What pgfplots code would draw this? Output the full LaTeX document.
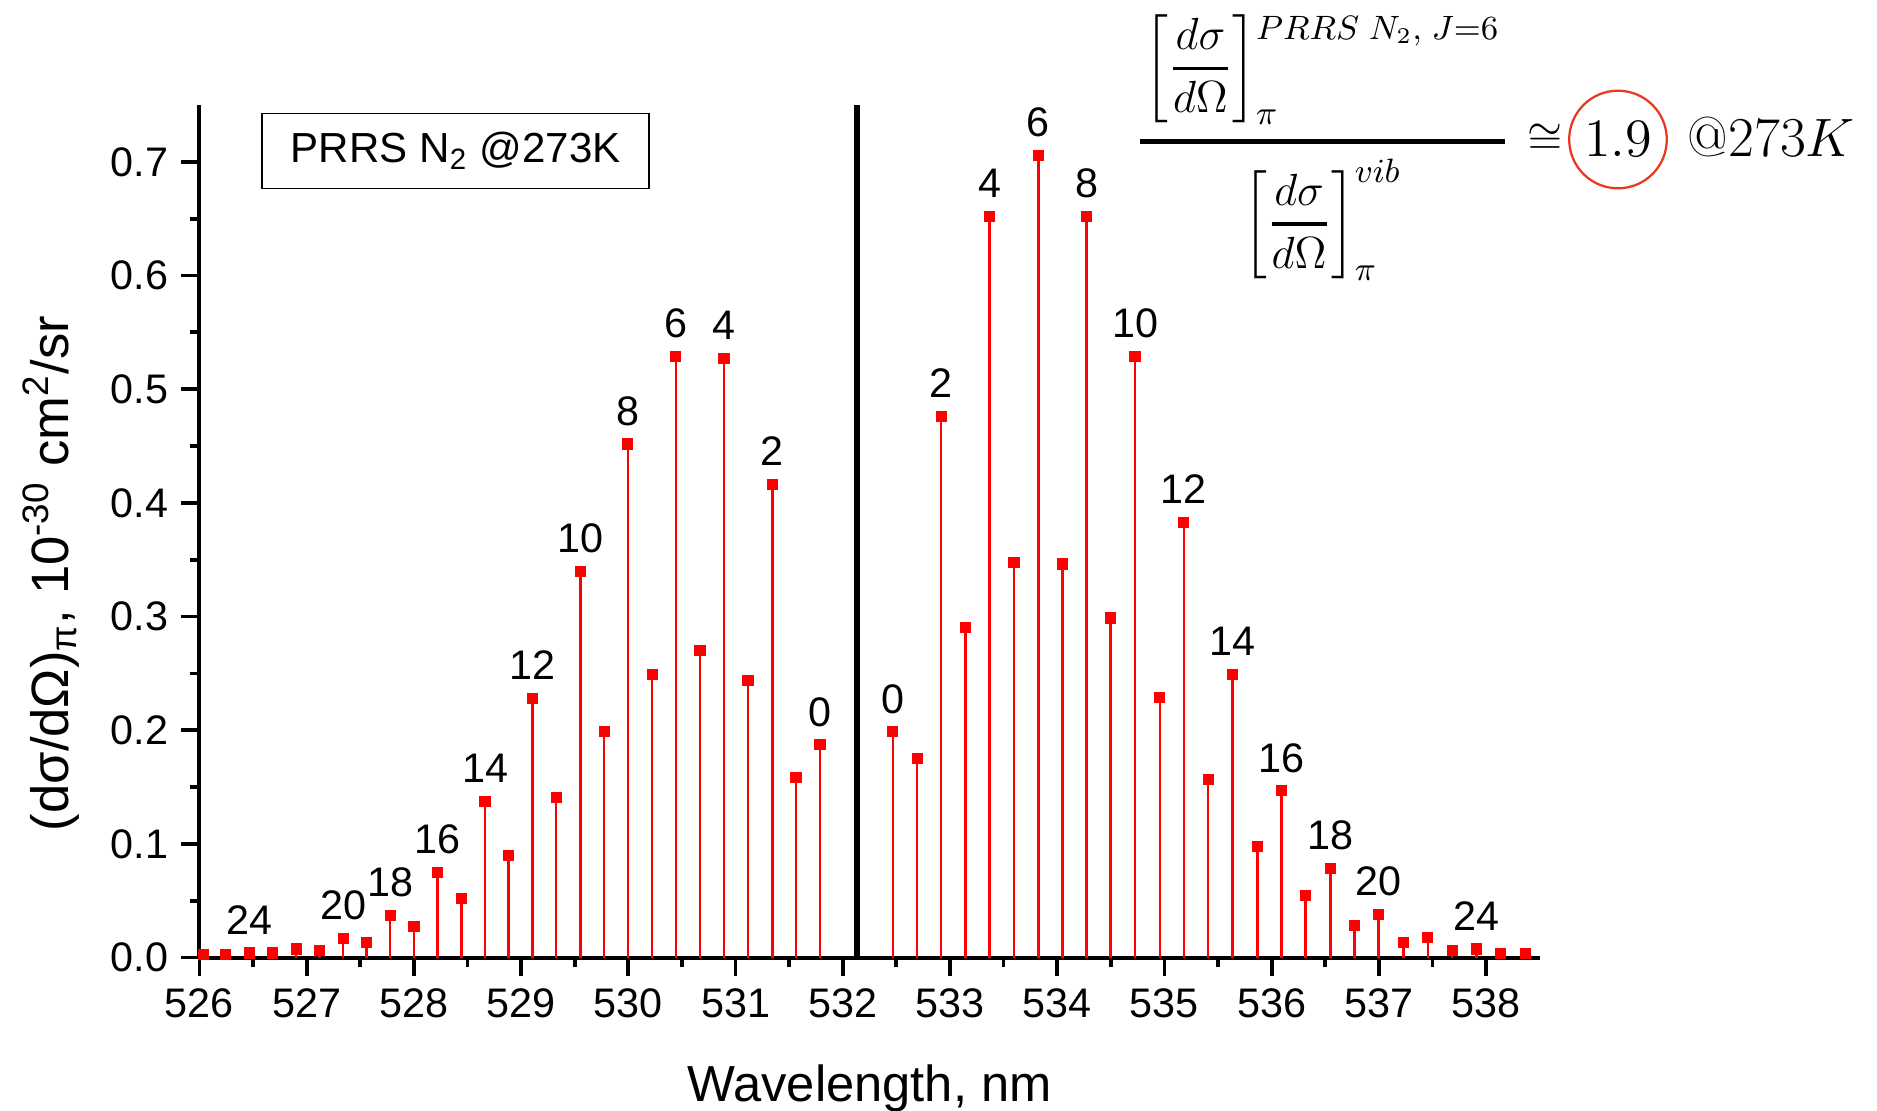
\documentclass[border=0pt]{standalone}
\usepackage{amsmath}
\usepackage[no-math]{fontspec}
\setmainfont{Liberation Sans}
\newfontfamily\lmr{Latin Modern Roman}
\usepackage{pgfplots}
\pgfplotsset{compat=1.18}
\definecolor{ringred}{RGB}{232,56,30}
\newcommand{\lab}[3]{\node[anchor=base, inner sep=0pt, yshift=5pt, font=\fontsize{11}{13}\selectfont] at (axis cs:#1,#2) {#3};}
\newcommand{\dsdo}{\left[\genfrac{}{}{1pt}{0}{d\sigma}{d\Omega}\right]}
\begin{document}
\begin{tikzpicture}
\useasboundingbox (-53.12pt,-40.86pt) rectangle (446.88pt,255.09pt);
\begin{axis}[
  scale only axis, width=357.03pt, height=227.12pt,
  xmin=526, xmax=538.5, ymin=0, ymax=0.75,
  axis lines*=left,
  axis line style={-, line width=1.1pt, black},
  tick align=outside,
  major tick length=4.8pt, minor tick length=2.6pt,
  tick style={black, line width=1pt},
  xtick={526,527,...,538}, minor x tick num=1,
  ytick={0,0.1,0.2,0.3,0.4,0.5,0.6,0.7}, minor y tick num=1,
  tick label style={font=\fontsize{11}{13}\selectfont},
  /pgf/number format/assume math mode=true,
  yticklabel style={/pgf/number format/.cd, fixed, fixed zerofill, precision=1},
  xticklabel style={/pgf/number format/.cd, fixed, precision=0, 1000 sep={}},
  xlabel={Wavelength, nm},
  xlabel style={font=\fontsize{13.5}{16}\selectfont, at={(axis description cs:0.5,-0.169)}, anchor=base},
  ylabel={(dσ/dΩ)\textsubscript{π}, 10\textsuperscript{-30} cm\textsuperscript{2}/sr},
  ylabel style={font=\fontsize{14}{16}\selectfont, at={(axis description cs:-0.0978,0.4505)}, anchor=base},
  clip=false,
]
% anti-Stokes branch (J = 26 ... 0)
\addplot[ycomb, red, line width=0.65pt, mark=square*, mark size=1.35pt, mark options={solid, fill=red, draw=red, line width=0pt}] coordinates {
(526.036,0.003) (526.246,0.003) (526.466,0.004) (526.681,0.004) (526.902,0.0076)
(527.119,0.006) (527.341,0.0167) (527.558,0.0135) (527.780,0.0372) (528.001,0.0275)
(528.221,0.075) (528.443,0.0518) (528.664,0.1375) (528.884,0.090) (529.106,0.2277)
(529.327,0.141) (529.554,0.3394) (529.775,0.1992) (529.995,0.4518) (530.223,0.2488)
(530.444,0.529) (530.668,0.2702) (530.892,0.5272) (531.116,0.2435) (531.344,0.416)
(531.564,0.1584) (531.788,0.1871)
};
% Stokes branch (J = 0 ... 26)
\addplot[ycomb, red, line width=0.65pt, mark=square*, mark size=1.35pt, mark options={solid, fill=red, draw=red, line width=0pt}] coordinates {
(532.466,0.1986) (532.694,0.175) (532.918,0.4761) (533.146,0.2904) (533.370,0.6517)
(533.597,0.3478) (533.824,0.7058) (534.048,0.3462) (534.275,0.6517) (534.499,0.2987)
(534.726,0.5288) (534.957,0.2288) (535.181,0.3825) (535.408,0.157) (535.635,0.249)
(535.868,0.0974) (536.092,0.1467) (536.316,0.0545) (536.547,0.0786) (536.774,0.0284)
(536.998,0.0381) (537.229,0.0131) (537.456,0.0173) (537.683,0.0061) (537.910,0.0076)
(538.137,0.0038) (538.368,0.0038)
};
% laser line
\addplot[black, line width=1.6pt] coordinates {(532.131,0) (532.131,0.75)};
% J labels, anti-Stokes
\lab{526.466}{0.004}{24}
\lab{527.341}{0.0167}{20}
\lab{527.780}{0.0372}{18}
\lab{528.221}{0.075}{16}
\lab{528.664}{0.1375}{14}
\lab{529.106}{0.2277}{12}
\lab{529.554}{0.3394}{10}
\lab{529.995}{0.4518}{8}
\lab{530.444}{0.529}{6}
\lab{530.892}{0.5272}{4}
\lab{531.344}{0.416}{2}
\lab{531.788}{0.1871}{0}
% J labels, Stokes
\lab{532.466}{0.1986}{0}
\lab{532.918}{0.4761}{2}
\lab{533.370}{0.6517}{4}
\lab{533.824}{0.7058}{6}
\lab{534.275}{0.6517}{8}
\lab{534.726}{0.5288}{10}
\lab{535.181}{0.3825}{12}
\lab{535.635}{0.249}{14}
\lab{536.092}{0.1467}{16}
\lab{536.547}{0.0786}{18}
\lab{536.998}{0.0381}{20}
\lab{537.910}{0.0076}{24}
% box
\node[draw=black, line width=0.45pt, minimum width=103.1pt, minimum height=20pt, inner sep=0pt, font=\fontsize{11.2}{13}\selectfont] at (axis cs:528.391,0.7096) {PRRS N\textsubscript{2} @273K};
% formula
\node[anchor=base, inner sep=0pt, font=\fontsize{12.5}{15}\selectfont] at (axis cs:536.474,0.7079)
 {$\displaystyle\genfrac{}{}{1.3pt}{0}{\makebox[97.4pt]{$\textstyle\dsdo_{\pi}^{\raisebox{-3.5pt}{$\scriptstyle PRRS\;N_{2},\;J=6$}}$}}{\dsdo_{\pi}^{vib}}$};
\node[anchor=base, inner sep=0pt, font=\fontsize{13}{16}\selectfont] at (axis cs:538.55,0.7079) {$\cong$};
\node[anchor=base, circle, draw=ringred, line width=0.6pt, minimum size=26pt, inner sep=0pt, font=\fontsize{15}{18}\selectfont] at (axis cs:539.23,0.7043) {$1.9$};
\node[anchor=base, inner sep=0pt, font=\fontsize{15}{18}\selectfont] at (axis cs:540.66,0.7043) {{\lmr @273}$K$};
\end{axis}
\end{tikzpicture}
\end{document}
